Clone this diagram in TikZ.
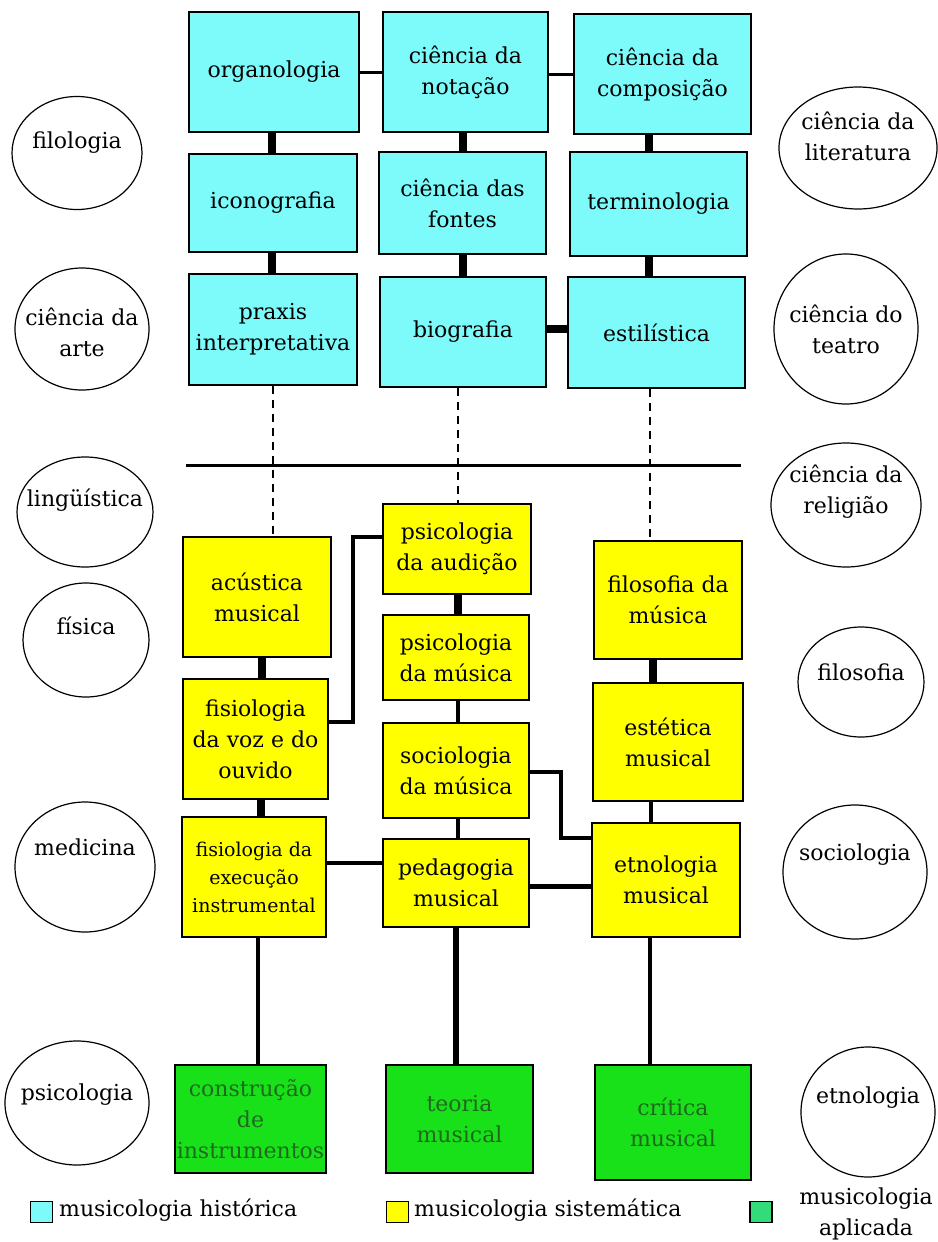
\documentclass[tikz,border=0pt]{standalone}
\usepackage{fontspec}
\setmainfont{DejaVu Serif}
\usepackage{xcolor}
\usetikzlibrary{shapes.geometric}

\definecolor{histblue}{RGB}{125,250,250}
\definecolor{sistyellow}{RGB}{255,255,0}
\definecolor{aplgreen}{RGB}{25,225,25}
\definecolor{apltext}{RGB}{30,105,30}
\definecolor{legendgreen}{RGB}{50,220,120}

\tikzset{
    wh/.style 2 args={minimum width=#1pt, minimum height=#2pt},
    hist/.style={rectangle, draw, line width=2pt, fill=histblue},
    sist/.style={rectangle, draw, line width=2pt, fill=sistyellow},
    apl/.style={rectangle, draw, line width=2pt, fill=aplgreen, text=apltext},
    disc/.style={ellipse, draw, line width=1.2pt, inner sep=0pt},
    legsq/.style={rectangle, draw, line width=1.5pt, minimum width=22pt, minimum height=21pt, inner sep=0pt}
}

\begin{document}
\begin{tikzpicture}[x=1pt, y=-1pt,
        every node/.append style={font=\fontsize{22}{31}\selectfont, align=center, inner sep=2pt}]
        \useasboundingbox (0,0) rectangle (937,1242);

        \begin{scope}
            \node[hist, wh={170}{120}] (org)  at (274, 72)    {organologia};
            \node[hist, wh={165}{120}] (not)  at (465.5, 72)  {ciência da\\notação};
            \node[hist, wh={177}{120}] (comp) at (662.5, 74)  {ciência da\\composição};
            \node[hist, wh={168}{98}]  (ico)  at (273, 203)   {iconografia};
            \node[hist, wh={167}{102}] (font) at (462.5, 203) {ciência das\\fontes};
            \node[hist, wh={177}{104}] (term) at (658.5, 204) {terminologia};
            \node[hist, wh={168}{111}] (prax) at (273, 329.5) {praxis\\interpretativa};
            \node[hist, wh={166}{110}] (bio)  at (463, 332)   {biografia};
            \node[hist, wh={177}{111}] (estl) at (656.5, 332.5) {estilística};
        \end{scope}

        \begin{scope}
            \node[sist, wh={148}{120}] (acu) at (257, 597)   {acústica\\musical};
            \node[sist, wh={145}{120}] (voz) at (255.5, 739) {fisiologia\\da voz e do\\ouvido};
            \node[sist, wh={144}{120}, font=\fontsize{19}{28}\selectfont] (exe) at (254, 877) {fisiologia da\\execução\\instrumental};
            \node[sist, wh={148}{90}]  (aud) at (457, 549)   {psicologia\\da audição};
            \node[sist, wh={146}{85}]  (psm) at (456, 657.5) {psicologia\\da música};
            \node[sist, wh={146}{95}]  (soc) at (456, 770.5) {sociologia\\da música};
            \node[sist, wh={146}{88}]  (ped) at (456, 883)   {pedagogia\\musical};
            \node[sist, wh={148}{118}] (fil) at (668, 600)   {filosofia da\\música};
            \node[sist, wh={150}{118}] (ets) at (668, 742)   {estética\\musical};
            \node[sist, wh={148}{114}] (etn) at (666, 880)   {etnologia\\musical};
        \end{scope}

        \begin{scope}
            \node[apl, wh={149}{108}] (cons) at (250.5, 1119) {construção\\de\\instrumentos};
            \node[apl, wh={147}{108}] (teo)  at (459.5, 1119) {teoria\\musical};
            \node[apl, wh={156}{115}] (crit) at (673, 1122.5) {crítica\\musical};
        \end{scope}

        \begin{scope}
            \node[disc, wh={130}{113}, label={[yshift=10pt]center:filologia}] (filol) at (77, 153) {};
            \node[disc, wh={134}{122}, label={[yshift=-3pt]center:{ciência da\\arte}}] (arte) at (82, 329) {};
            \node[disc, wh={136}{110}, label={[yshift=12pt]center:lingüística}] (ling) at (85, 512) {};
            \node[disc, wh={126}{114}, label={[yshift=14pt]center:física}] (fis) at (86, 640) {};
            \node[disc, wh={140}{130}, label={[yshift=20pt]center:medicina}] (med) at (85, 867) {};
            \node[disc, wh={144}{124}, label={[yshift=8pt]center:psicologia}] (psi) at (77, 1103) {};
            \node[disc, wh={158}{122}, label={[yshift=12pt]center:{ciência da\\literatura}}] (lit) at (858, 148) {};
            \node[disc, wh={144}{150}, label={center:{ciência do\\teatro}}] (teat) at (846, 329) {};
            \node[disc, wh={150}{124}, label={[yshift=13pt]center:{ciência da\\religião}}] (rel) at (846, 505) {};
            \node[disc, wh={126}{110}, label={[yshift=10pt]center:filosofia}] (filos) at (861, 682) {};
            \node[disc, wh={144}{134}, label={[yshift=17pt]center:sociologia}] (socg) at (855, 872) {};
            \node[disc, wh={134}{130}, label={[yshift=14pt]center:etnologia}] (etnog) at (868, 1112) {};
        \end{scope}

        \begin{scope}[every edge/.style={draw=black, line width=8pt}]
                \path (org) edge[line width=3pt] (not);
                \path ([yshift=-2pt]not.east) edge[line width=3pt] ([yshift=-2pt]not.east -| comp.west);
                \path ([xshift=-2pt]org.south) edge ([xshift=-2pt]org.south |- ico.north);
                \path ([xshift=-1pt]ico.south) edge ([xshift=-1pt]ico.south |- prax.north);
                \path ([xshift=-3pt]not.south) edge ([xshift=-3pt]not.south |- font.north);
                \path (font.south) edge (font.south |- bio.north);
                \path ([xshift=-14pt]comp.south) edge ([xshift=-14pt]comp.south |- term.north);
                \path ([xshift=-10pt]term.south) edge ([xshift=-10pt]term.south |- estl.north);
                \path ([yshift=3pt]bio.east) edge ([yshift=3pt]bio.east -| estl.west);
                \path ([xshift=5pt]acu.south) edge ([xshift=5pt]acu.south |- voz.north);
                \path ([xshift=5pt]voz.south) edge ([xshift=5pt]voz.south |- exe.north);
                \path ([xshift=1pt]aud.south) edge ([xshift=1pt]aud.south |- psm.north);
                \path ([xshift=2pt]psm.south) edge[line width=4pt] ([xshift=2pt]psm.south |- soc.north);
                \path ([xshift=2pt]soc.south) edge[line width=4pt] ([xshift=2pt]soc.south |- ped.north);
                \path ([xshift=-15pt]fil.south) edge ([xshift=-15pt]fil.south |- ets.north);
                \path ([xshift=-17pt]ets.south) edge[line width=4pt] ([xshift=-17pt]ets.south |- etn.north);
                \path ([yshift=14pt]exe.east) edge[line width=4pt] ([yshift=14pt]exe.east -| ped.west);
                \path ([yshift=-3pt]ped.east) edge[line width=5pt] ([yshift=-3pt]ped.east -| etn.west);
                \path ([xshift=4pt]exe.south) edge[line width=4pt] ([xshift=4pt]exe.south |- cons.north);
                \path (ped.south) edge[line width=6pt] (ped.south |- teo.north);
                \path ([xshift=-16pt]etn.south) edge[line width=4pt] ([xshift=-16pt]etn.south |- crit.north);
        \end{scope}

        \draw[line width=3.5pt] ([yshift=12pt]aud.west) -- ++(-29,0) |- ([yshift=17pt]voz.east);
        \draw[line width=3.5pt] ([yshift=-1.5pt]soc.east) -- ++(31,0) |- ([yshift=42pt]etn.west);

        \begin{scope}[dash pattern=on 8pt off 6pt, line width=2pt]
                \draw (prax.south) -- (prax.south |- acu.north);
                \draw ([xshift=-5pt]bio.south) -- ([xshift=-5pt]bio.south |- aud.north);
                \draw ([xshift=-7pt]estl.south) -- ([xshift=-7pt]estl.south |- fil.north);
        \end{scope}

        \coordinate (hl) at (186, 465);
        \coordinate (hr) at (741, 465);
        \draw[line width=3pt] (hl) -- (hr);

        \node[legsq, fill=histblue]    (lh) at (41.5, 1212) {};
        \node[anchor=west]             (lht) at (57, 1210) {musicologia histórica};
        \node[legsq, fill=sistyellow]  (ls) at (397.5, 1212) {};
        \node[anchor=west]             (lst) at (412, 1210) {musicologia sistemática};
        \node[legsq, fill=legendgreen] (la) at (761, 1212) {};
        \node                          (lat) at (866, 1214) {musicologia\\aplicada};
    \end{tikzpicture}
\end{document}
